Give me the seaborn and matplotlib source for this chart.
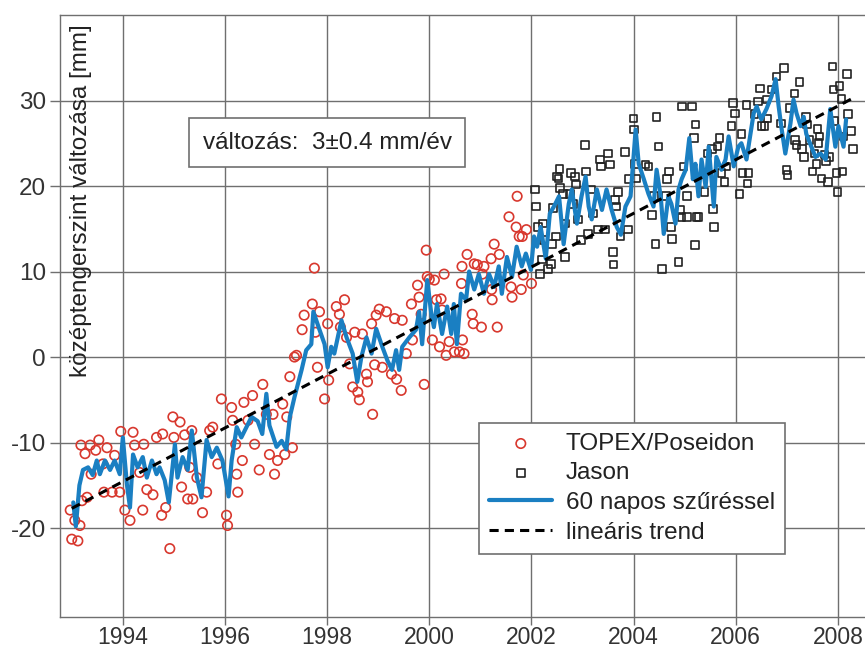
import numpy as np
import pandas as pd
import seaborn as sns
import matplotlib.pyplot as plt

# TOPEX/Poseidon measurements (year, mm)
topex_years = [1992.97, 1993.00, 1993.06, 1993.12, 1993.16, 1993.18, 1993.20, 1993.26, 1993.30, 1993.36,
               1993.38, 1993.47, 1993.53, 1993.61, 1993.63, 1993.69, 1993.79, 1993.84, 1993.94, 1993.96,
               1994.04, 1994.14, 1994.20, 1994.23, 1994.33, 1994.39, 1994.41, 1994.47, 1994.59, 1994.66,
               1994.76, 1994.78, 1994.84, 1994.92, 1994.98, 1995.00, 1995.12, 1995.15, 1995.21, 1995.27,
               1995.31, 1995.35, 1995.37, 1995.45, 1995.56, 1995.64, 1995.70, 1995.76, 1995.86, 1995.93,
               1996.03, 1996.05, 1996.13, 1996.15, 1996.21, 1996.23, 1996.25, 1996.34, 1996.37, 1996.45,
               1996.54, 1996.58, 1996.67, 1996.74, 1996.81, 1996.87, 1996.94, 1996.97, 1997.03, 1997.13,
               1997.17, 1997.21, 1997.27, 1997.32, 1997.36, 1997.40, 1997.51, 1997.55, 1997.71, 1997.75,
               1997.77, 1997.81, 1997.85, 1997.95, 1998.01, 1998.03, 1998.18, 1998.24, 1998.26, 1998.34,
               1998.38, 1998.44, 1998.50, 1998.54, 1998.60, 1998.63, 1998.69, 1998.77, 1998.79, 1998.87,
               1998.89, 1998.93, 1998.96, 1999.02, 1999.08, 1999.16, 1999.26, 1999.32, 1999.36, 1999.45,
               1999.47, 1999.55, 1999.65, 1999.67, 1999.77, 1999.80, 1999.84, 1999.90, 1999.94, 1999.96,
               2000.00, 2000.06, 2000.10, 2000.14, 2000.20, 2000.23, 2000.25, 2000.29, 2000.33, 2000.39,
               2000.49, 2000.59, 2000.63, 2000.64, 2000.65, 2000.68, 2000.74, 2000.84, 2000.86, 2000.88,
               2000.94, 2001.02, 2001.04, 2001.07, 2001.21, 2001.22, 2001.23, 2001.27, 2001.33, 2001.37,
               2001.56, 2001.60, 2001.62, 2001.70, 2001.72, 2001.76, 2001.80, 2001.82, 2001.84, 2001.90,
               2002.00]
topex_mm = [-17.9, -21.3, -19.1, -21.5, -19.7, -10.3, -16.8, -11.3, -16.4, -10.3,
            -13.7, -10.9, -9.7, -12.5, -15.8, -10.6, -15.8, -11.5, -15.8, -8.7,
            -17.9, -19.1, -8.8, -10.3, -13.5, -17.9, -10.2, -15.5, -16.1, -9.4,
            -18.5, -9.0, -17.6, -22.4, -7.0, -9.4, -7.6, -15.2, -9.1, -16.6,
            -12.9, -8.6, -16.6, -14.1, -18.2, -15.8, -8.6, -8.2, -12.5, -4.9,
            -18.5, -19.7, -5.9, -7.4, -10.2, -13.7, -15.8, -12.1, -5.3, -7.4,
            -4.5, -10.2, -13.2, -3.2, -6.7, -11.4, -6.7, -13.7, -12.1, -5.5,
            -11.4, -7.0, -2.3, -10.6, 0.0, 0.2, 3.2, 4.9, 6.2, 10.4,
            2.9, -1.2, 5.3, -4.9, 3.9, -2.7, 5.9, 5.0, 3.5, 6.7,
            2.3, -0.8, -3.5, 2.9, -4.1, -5.0, 2.7, -2.0, -2.9, 3.9,
            -6.7, -0.9, 4.9, 5.6, -1.2, 5.3, -2.0, 4.5, -2.6, -3.9,
            4.3, 0.4, 6.2, 2.0, 8.4, 7.0, 5.0, -3.2, 12.5, 9.4,
            9.1, 2.0, 9.0, 6.7, 1.2, 6.8, 5.5, 9.7, 0.2, 1.8,
            0.6, 0.6, 8.6, 10.6, 2.0, 0.4, 12.0, 5.0, 3.9, 10.9,
            10.8, 3.5, 9.7, 10.6, 11.5, 7.9, 6.7, 13.2, 3.5, 12.0,
            16.4, 8.2, 7.0, 15.2, 18.8, 14.1, 7.9, 14.1, 9.6, 14.9,
            8.6]

# Jason measurements (year, mm)
jason_years = [2002.07, 2002.09, 2002.13, 2002.17, 2002.21, 2002.23, 2002.25, 2002.32, 2002.38, 2002.40,
               2002.42, 2002.48, 2002.50, 2002.53, 2002.55, 2002.56, 2002.62, 2002.66, 2002.67, 2002.75,
               2002.77, 2002.81, 2002.85, 2002.87, 2002.91, 2002.97, 2003.05, 2003.07, 2003.11, 2003.17,
               2003.21, 2003.30, 2003.34, 2003.36, 2003.44, 2003.50, 2003.54, 2003.60, 2003.61, 2003.64,
               2003.66, 2003.69, 2003.74, 2003.83, 2003.89, 2003.90, 2004.00, 2004.01, 2004.03, 2004.05,
               2004.23, 2004.29, 2004.36, 2004.40, 2004.43, 2004.45, 2004.49, 2004.55, 2004.63, 2004.65,
               2004.69, 2004.73, 2004.75, 2004.88, 2004.92, 2004.94, 2004.95, 2004.98, 2005.04, 2005.05,
               2005.14, 2005.18, 2005.20, 2005.21, 2005.23, 2005.27, 2005.39, 2005.45, 2005.53, 2005.55,
               2005.57, 2005.64, 2005.68, 2005.72, 2005.78, 2005.82, 2005.92, 2005.94, 2005.98, 2006.07,
               2006.11, 2006.13, 2006.21, 2006.23, 2006.25, 2006.37, 2006.43, 2006.47, 2006.50, 2006.56,
               2006.60, 2006.62, 2006.70, 2006.80, 2006.89, 2006.95, 2006.99, 2007.01, 2007.05, 2007.15,
               2007.16, 2007.19, 2007.25, 2007.30, 2007.34, 2007.38, 2007.40, 2007.44, 2007.50, 2007.54,
               2007.58, 2007.60, 2007.62, 2007.64, 2007.68, 2007.74, 2007.77, 2007.80, 2007.83, 2007.89,
               2007.91, 2007.93, 2007.97, 2007.99, 2008.03, 2008.07, 2008.09, 2008.11, 2008.18, 2008.20,
               2008.26, 2008.30]
jason_mm = [19.6, 17.6, 15.2, 9.7, 11.4, 15.6, 13.7, 10.3, 10.9, 13.2,
            17.4, 14.1, 21.1, 20.9, 22.0, 19.8, 19.1, 11.7, 15.6, 19.1,
            21.5, 17.9, 21.1, 20.2, 16.1, 13.7, 24.8, 21.7, 14.4, 19.6,
            16.8, 14.9, 23.1, 22.3, 14.9, 23.8, 22.5, 12.3, 10.8, 18.4,
            17.6, 19.3, 14.1, 24.0, 14.9, 20.8, 27.9, 26.6, 22.6, 20.9,
            22.5, 22.3, 16.6, 18.8, 13.2, 28.1, 24.6, 10.3, 18.8, 20.8,
            21.7, 15.2, 13.8, 11.1, 17.2, 16.4, 29.3, 22.3, 18.8, 16.4,
            29.3, 25.6, 13.1, 27.2, 16.4, 16.4, 19.3, 23.8, 24.3, 17.3,
            15.2, 24.6, 25.6, 21.5, 20.5, 22.3, 27.0, 29.7, 28.5, 19.1,
            26.1, 21.5, 29.5, 20.3, 21.5, 28.4, 29.9, 31.4, 27.0, 27.0,
            30.1, 27.9, 31.3, 32.8, 27.3, 33.8, 21.9, 21.3, 29.1, 30.8,
            25.4, 24.8, 32.2, 24.3, 23.4, 28.1, 27.2, 25.4, 21.7, 23.8,
            22.6, 26.7, 25.0, 25.8, 20.9, 23.7, 22.9, 20.5, 23.4, 34.0,
            31.3, 27.6, 21.5, 19.3, 31.7, 30.2, 21.7, 25.8, 33.1, 28.4,
            26.4, 24.3]

# 60 day filtered series
filt_years = [1993.03, 1993.08, 1993.15, 1993.22, 1993.32, 1993.41, 1993.49, 1993.55, 1993.65, 1993.75,
              1993.84, 1993.94, 1994.00, 1994.08, 1994.14, 1994.20, 1994.29, 1994.39, 1994.47, 1994.57,
              1994.66, 1994.72, 1994.82, 1994.90, 1995.02, 1995.07, 1995.17, 1995.27, 1995.35, 1995.45,
              1995.54, 1995.64, 1995.74, 1995.84, 1995.95, 1996.07, 1996.13, 1996.23, 1996.32, 1996.42,
              1996.52, 1996.64, 1996.73, 1996.81, 1996.87, 1997.01, 1997.11, 1997.20, 1997.27, 1997.36,
              1997.50, 1997.59, 1997.69, 1997.73, 1997.85, 1997.95, 1998.01, 1998.08, 1998.14, 1998.28,
              1998.38, 1998.50, 1998.59, 1998.67, 1998.77, 1998.87, 1998.96, 1999.08, 1999.18, 1999.27,
              1999.35, 1999.41, 1999.47, 1999.61, 1999.74, 1999.80, 1999.86, 1999.96, 2000.04, 2000.09,
              2000.15, 2000.25, 2000.35, 2000.43, 2000.48, 2000.54, 2000.62, 2000.72, 2000.78, 2000.88,
              2000.97, 2001.07, 2001.17, 2001.27, 2001.36, 2001.42, 2001.52, 2001.62, 2001.71, 2001.81,
              2001.89, 2001.99, 2002.05, 2002.11, 2002.18, 2002.28, 2002.36, 2002.44, 2002.54, 2002.63,
              2002.73, 2002.79, 2002.89, 2002.98, 2003.06, 2003.12, 2003.18, 2003.28, 2003.38, 2003.47,
              2003.57, 2003.67, 2003.75, 2003.84, 2003.94, 2004.04, 2004.10, 2004.20, 2004.29, 2004.39,
              2004.45, 2004.53, 2004.59, 2004.68, 2004.74, 2004.82, 2004.88, 2004.94, 2005.02, 2005.09,
              2005.16, 2005.21, 2005.27, 2005.33, 2005.41, 2005.47, 2005.57, 2005.62, 2005.72, 2005.80,
              2005.86, 2005.96, 2006.05, 2006.11, 2006.21, 2006.35, 2006.41, 2006.50, 2006.60, 2006.70,
              2006.78, 2006.84, 2006.89, 2006.97, 2007.07, 2007.13, 2007.19, 2007.27, 2007.33, 2007.38,
              2007.48, 2007.56, 2007.66, 2007.76, 2007.85, 2007.95, 2008.01, 2008.11, 2008.16]
filt_mm = [-17.0, -19.8, -15.0, -13.2, -12.9, -13.8, -12.1, -13.7, -12.1, -13.2,
           -12.1, -13.7, -9.4, -14.9, -17.6, -11.4, -12.9, -11.7, -14.1, -12.1,
           -13.7, -12.9, -14.4, -17.0, -10.2, -14.1, -11.7, -13.2, -8.6, -14.1,
           -16.4, -9.7, -11.7, -10.6, -12.1, -16.3, -12.1, -8.2, -9.4, -8.2,
           -7.0, -7.5, -9.0, -4.3, -8.0, -10.5, -9.8, -10.8, -7.0, -4.7,
           -1.5, 0.8, 1.5, 5.3, 3.2, 1.5, -1.2, 1.2, 0.4, 4.3,
           2.3, 0.4, -2.9, 0.0, 2.3, 0.4, 3.3, 1.2, -0.4, -1.5,
           0.8, -1.5, 1.2, 2.3, 3.2, 5.3, 1.5, 9.0, 5.0, 3.5,
           6.2, 2.7, 5.9, 2.7, 6.2, 1.5, 7.4, 6.7, 10.0, 7.9,
           9.7, 7.4, 9.7, 8.2, 10.6, 7.4, 11.7, 9.4, 12.9, 10.6,
           12.1, 10.2, 14.1, 12.9, 15.2, 11.5, 16.8, 17.6, 18.8, 13.2,
           17.9, 19.6, 15.6, 18.8, 21.1, 17.6, 16.1, 19.6, 17.2, 19.6,
           17.2, 15.2, 14.3, 17.6, 18.8, 26.6, 22.6, 20.8, 19.1, 17.6,
           21.9, 18.8, 14.4, 18.8, 17.9, 15.6, 19.6, 20.8, 21.9, 25.6,
           20.8, 22.6, 18.8, 23.1, 19.9, 24.6, 17.6, 23.4, 21.9, 23.1,
           25.8, 22.3, 24.6, 25.0, 23.1, 28.5, 29.3, 27.8, 29.0, 30.5,
           32.5, 29.3, 27.0, 23.8, 27.3, 30.1, 28.5, 27.0, 28.1, 26.1,
           24.6, 23.4, 23.8, 23.1, 29.0, 24.6, 27.0, 24.6, 27.8]

# linear trend end points
trend_years = [1993.0, 2008.27]
trend_mm = [-17.7, 30.2]

RED = '#d8382e'
BLUE = '#1a7fc2'
GRID = '#6f6f6f'
FS = 17.5

sns.set_theme(style='ticks')
plt.rcParams['font.family'] = ['Liberation Sans', 'DejaVu Sans']
plt.rcParams['axes.unicode_minus'] = False

fig = plt.figure(figsize=(8.65, 6.53), dpi=100)
ax = fig.add_axes([60 / 865, 36 / 653, 805 / 865, 602 / 653])

sns.scatterplot(x=topex_years, y=topex_mm, marker='o', s=46, facecolor='none',
                edgecolor=RED, linewidth=1.2, label='TOPEX/Poseidon', ax=ax, zorder=3)
sns.scatterplot(x=jason_years, y=jason_mm, marker='s', s=30, facecolor='none',
                edgecolor='#222222', linewidth=1.2, label='Jason', ax=ax, zorder=3)
sns.lineplot(x=filt_years, y=filt_mm, color=BLUE, lw=3.0, estimator=None,
             label='60 napos szűréssel', ax=ax, zorder=4)
sns.lineplot(x=trend_years, y=trend_mm, color='black', lw=2.2, ls=(0, (3, 2)), estimator=None,
             label='lineáris trend', ax=ax, zorder=5)

ax.set_xlim(1992.77, 2008.53)
ax.set_ylim(-30.4, 40)
ax.set_xticks(range(1994, 2009, 2))
ax.set_yticks(range(-20, 31, 10))
ax.grid(True, color=GRID, lw=1.0)
ax.set_axisbelow(True)
for side in ['left', 'bottom', 'top']:
    ax.spines[side].set_color(GRID)
    ax.spines[side].set_linewidth(1.0)
ax.spines['right'].set_visible(False)
ax.tick_params(direction='out', length=7, width=1.0, color=GRID, labelsize=FS,
               labelcolor='#333333', pad=3)
ax.tick_params(axis='x', length=6, labelsize=16.5, pad=0.5)
ax.set_xlabel('')
ax.set_ylabel('')

# y label sits inside the frame
ax.text(0.026, 0.985, 'középtengerszint változása [mm]', transform=ax.transAxes,
        rotation=90, ha='center', va='top', fontsize=FS, color='#222222')

ax.text(0.332, 0.788, 'változás:  3±0.4 mm/év', transform=ax.transAxes,
        ha='center', va='center', fontsize=FS, color='#222222', zorder=6,
        bbox=dict(boxstyle='square,pad=0.55', fc='white', ec=GRID, lw=1.2))

leg = ax.legend(loc='upper left', bbox_to_anchor=(0.5205, 0.3228), frameon=True, fancybox=False,
                framealpha=1, edgecolor=GRID, fontsize=FS, handlelength=2.6, handletextpad=0.55,
                labelspacing=0.31, borderpad=0.42, borderaxespad=0, scatterpoints=1)
leg.get_frame().set_linewidth(1.2)
for t in leg.get_texts():
    t.set_color('#222222')

fig.savefig('out.png', dpi=100)
